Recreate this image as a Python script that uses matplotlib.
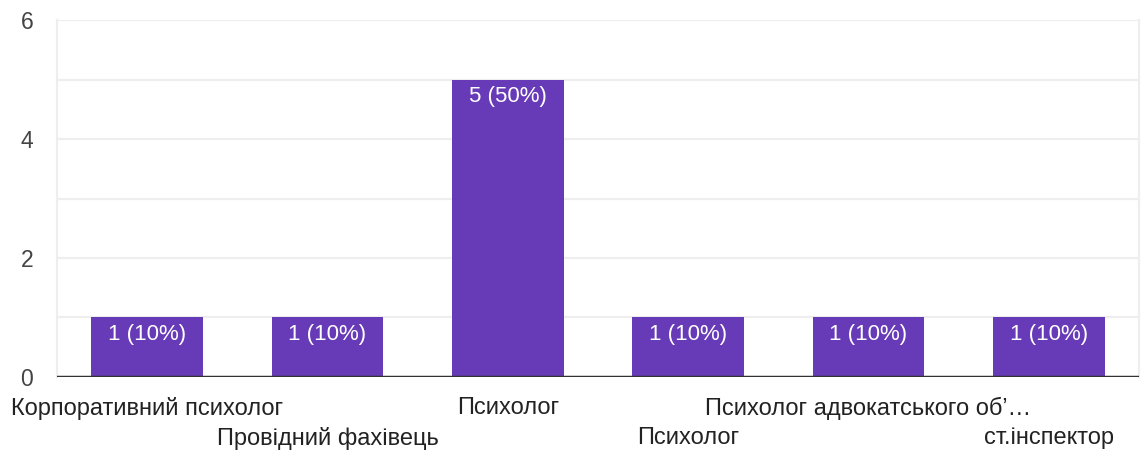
import matplotlib
matplotlib.use('Agg')
from matplotlib import pyplot as plt

plt.rcParams['font.family'] = ['Liberation Sans', 'DejaVu Sans']

# Дані
categories = ['Корпоративний психолог', 'Провідний фахівець', 'Психолог',
              'Психолог', 'Психолог адвокатського об’…', 'ст.інспектор']
counts = [1, 1, 5, 1, 1, 1]
percents = [10, 10, 50, 10, 10, 10]
y_ticks = [0, 2, 4, 6]

fig = plt.figure(figsize=(11.42, 4.53), dpi=100)
ax = fig.add_axes([0.0499, 0.1678, 0.9475, 0.788])

x = list(range(len(categories)))
bars = ax.bar(x, counts, width=0.62, color='#673ab7', zorder=3)

# Підписи всередині стовпчиків
for xi, c, p in zip(x, counts, percents):
    ax.annotate(f'{c} ({p}%)', xy=(xi, c), xytext=(0, -12.5), textcoords='offset points',
                ha='center', va='center', color='white', fontsize=16, zorder=4)

ax.set_xlim(-0.5, len(categories) - 0.5)
ax.set_ylim(0, 6)

# Сітка
for yv in range(1, 7):
    ax.axhline(yv, color='#eeeeee', lw=1.6, zorder=1)
ax.axhline(0, color='#333333', lw=2.5, zorder=5)

for side in ['top', 'bottom']:
    ax.spines[side].set_visible(False)
for side in ['left', 'right']:
    ax.spines[side].set_color('#eeeeee')
    ax.spines[side].set_linewidth(1.6)

ax.set_yticks(y_ticks)
ax.set_yticklabels([str(v) for v in y_ticks])
ax.tick_params(axis='y', length=0, pad=17, labelsize=16.5, labelcolor='#444444')

# Підписи категорій у два ряди
ax.set_xticks(x)
ax.set_xticklabels([])
ax.tick_params(axis='x', length=0)
for i, lbl in enumerate(categories):
    off = -22.5 if i % 2 == 0 else -44
    ax.annotate(lbl, xy=(i, 0), xycoords=('data', 'data'), xytext=(0, off),
                textcoords='offset points', ha='center', va='center',
                fontsize=17, color='#222222', annotation_clip=False)

plt.savefig('out.png', dpi=100)
plt.close(fig)
